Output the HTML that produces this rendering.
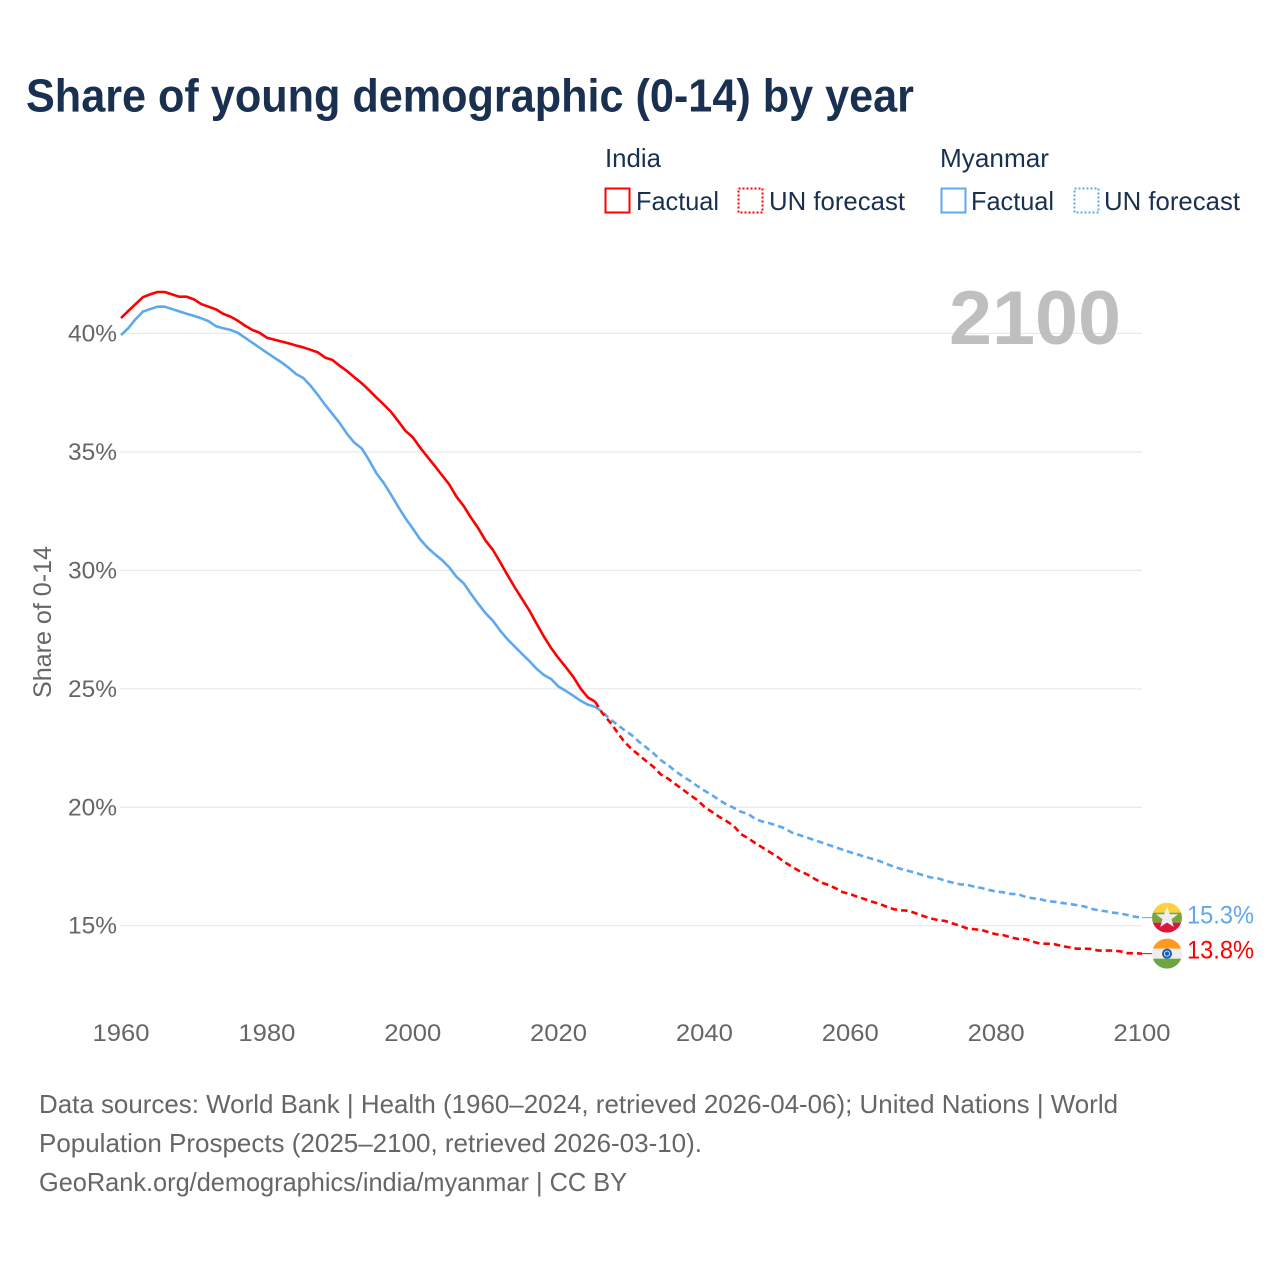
<!DOCTYPE html>
<html lang="en">
<head>
<meta charset="utf-8">
<title>Share of young demographic (0-14) by year</title>
<style>
html,body{margin:0;padding:0;background:#fff;}
svg{display:block;font-family:"Liberation Sans",sans-serif;}
</style>
</head>
<body>
<svg id="chart" xmlns="http://www.w3.org/2000/svg" width="1280" height="1280" viewBox="0 0 1280 1280">
  <defs>
    <clipPath id="flag-clip"><circle cx="0" cy="0" r="15"/></clipPath>
  </defs>
  <rect x="0" y="0" width="1280" height="1280" fill="#fff"/>
  <text x="26" y="111.5" font-size="46" font-weight="700" fill="#1a3050" textLength="888" lengthAdjust="spacingAndGlyphs">Share of young demographic (0-14) by year</text>

  <g font-size="26" fill="#1a3050">
    <text x="605" y="167" textLength="56" lengthAdjust="spacingAndGlyphs">India</text>
    <rect x="605.5" y="188.5" width="24" height="24" fill="none" stroke="#ff0000" stroke-width="2"/>
    <text x="636" y="210" textLength="83" lengthAdjust="spacingAndGlyphs">Factual</text>
    <rect x="738.5" y="188.5" width="24" height="24" fill="none" stroke="#ff0000" stroke-width="2" stroke-dasharray="2 2"/>
    <text x="769" y="210" textLength="136" lengthAdjust="spacingAndGlyphs">UN forecast</text>
    <text x="940" y="167" textLength="109" lengthAdjust="spacingAndGlyphs">Myanmar</text>
    <rect x="941.5" y="188.5" width="24" height="24" fill="none" stroke="#5ea8ee" stroke-width="2"/>
    <text x="971" y="210" textLength="83" lengthAdjust="spacingAndGlyphs">Factual</text>
    <rect x="1074.5" y="188.5" width="24" height="24" fill="none" stroke="#5ea8ee" stroke-width="2" stroke-dasharray="2 2"/>
    <text x="1104" y="210" textLength="136" lengthAdjust="spacingAndGlyphs">UN forecast</text>
  </g>

  <text transform="translate(51,622) rotate(-90)" text-anchor="middle" font-size="25" fill="#666" textLength="152" lengthAdjust="spacingAndGlyphs">Share of 0-14</text>

  <g id="grid"></g>
  <g id="ytick-labels"></g>
  <g id="xtick-labels"></g>

  <text x="1121" y="344" text-anchor="end" font-size="76" font-weight="700" fill="#bfbfbf" textLength="172" lengthAdjust="spacingAndGlyphs">2100</text>

  <g id="series"></g>

  <g id="flag-myanmar">
    <g clip-path="url(#flag-clip)">
      <rect x="-15" y="-15" width="30" height="10" fill="#fdd23f"/>
      <rect x="-15" y="-5" width="30" height="10" fill="#79a63c"/>
      <rect x="-15" y="5" width="30" height="10" fill="#e0133c"/>
      <polygon points="0,-11 2.9,-3.4 11,-3.4 4.5,1.6 6.8,9.3 0,4.8 -6.8,9.3 -4.5,1.6 -11,-3.4 -2.9,-3.4" fill="#eeeeee"/>
    </g>
  </g>
  <g id="flag-india">
    <g clip-path="url(#flag-clip)">
      <rect x="-15" y="-15" width="30" height="10" fill="#ff9b1c"/>
      <rect x="-15" y="-5" width="30" height="10" fill="#eeeeee"/>
      <rect x="-15" y="5" width="30" height="10" fill="#6da544"/>
      <circle cx="0" cy="0" r="5" fill="#0f5cbc"/>
      <circle cx="0" cy="0" r="2.6" fill="none" stroke="#cfe0f5" stroke-width="1"/>
    </g>
  </g>
  <g id="end-labels" font-size="25"></g>

  <g font-size="26" fill="#666">
    <text x="39" y="1113" textLength="1079" lengthAdjust="spacingAndGlyphs">Data sources: World Bank | Health (1960–2024, retrieved 2026-04-06); United Nations | World</text>
    <text x="39" y="1152" textLength="663" lengthAdjust="spacingAndGlyphs">Population Prospects (2025–2100, retrieved 2026-03-10).</text>
    <text x="39" y="1191" textLength="588" lengthAdjust="spacingAndGlyphs">GeoRank.org/demographics/india/myanmar | CC BY</text>
  </g>
</svg>
<script>
const factualStartYear = 1960;
const forecastStartYear = 2025;
const yTickValues = [40, 35, 30, 25, 20, 15];
const xTickValues = [1960, 1980, 2000, 2020, 2040, 2060, 2080, 2100];
const indiaFactual = [40.65,40.95,41.24,41.53,41.65,41.75,41.75,41.65,41.55,41.55,41.44,41.24,41.13,41.02,40.83,40.71,40.54,40.33,40.15,40.03,39.82,39.74,39.66,39.58,39.49,39.41,39.31,39.20,38.98,38.88,38.63,38.41,38.15,37.90,37.61,37.30,37.01,36.70,36.30,35.89,35.62,35.19,34.80,34.42,34.02,33.63,33.11,32.71,32.22,31.77,31.25,30.86,30.34,29.80,29.28,28.79,28.30,27.74,27.20,26.71,26.29,25.91,25.51,25.02,24.64,24.46];
const indiaForecast = [24.46,23.97,23.61,23.19,22.77,22.46,22.21,21.95,21.71,21.39,21.21,20.98,20.76,20.52,20.31,20.02,19.81,19.60,19.42,19.22,18.87,18.69,18.48,18.29,18.10,17.91,17.68,17.49,17.31,17.18,17.00,16.82,16.72,16.58,16.41,16.33,16.22,16.12,16.01,15.92,15.80,15.69,15.65,15.63,15.52,15.41,15.31,15.24,15.20,15.10,15.00,14.89,14.85,14.82,14.72,14.64,14.60,14.51,14.44,14.43,14.33,14.24,14.24,14.22,14.14,14.09,14.03,14.03,14.02,13.95,13.95,13.95,13.92,13.84,13.84,13.82];
const myanmarFactual = [39.93,40.22,40.60,40.92,41.03,41.13,41.13,41.03,40.93,40.83,40.74,40.64,40.52,40.31,40.22,40.15,40.03,39.82,39.61,39.40,39.19,38.98,38.78,38.55,38.29,38.12,37.79,37.40,36.98,36.60,36.21,35.76,35.39,35.15,34.66,34.11,33.70,33.21,32.69,32.20,31.77,31.32,30.97,30.69,30.44,30.13,29.73,29.45,29.00,28.58,28.19,27.87,27.45,27.09,26.78,26.47,26.17,25.84,25.58,25.41,25.09,24.91,24.71,24.50,24.33,24.24];
const myanmarForecast = [24.24,24.03,23.73,23.50,23.26,23.05,22.77,22.53,22.28,21.99,21.78,21.53,21.31,21.12,20.90,20.70,20.52,20.31,20.12,19.98,19.81,19.72,19.50,19.39,19.32,19.22,19.11,18.93,18.83,18.73,18.62,18.52,18.41,18.31,18.20,18.10,18.01,17.91,17.82,17.73,17.60,17.49,17.39,17.31,17.23,17.13,17.04,17.00,16.90,16.82,16.75,16.72,16.65,16.59,16.51,16.44,16.41,16.34,16.33,16.22,16.16,16.12,16.04,16.01,15.96,15.92,15.87,15.82,15.72,15.65,15.61,15.55,15.52,15.45,15.38,15.34];
const endLabelMyanmar = 15.3;
const endLabelIndia = 13.8;

const NS = 'http://www.w3.org/2000/svg';
const xScale = function (year) { return 121 + (year - 1960) * (1142 - 121) / 140; };
const yScale = function (v) { return 925.7 - (v - 15) * 23.69; };

function linePath(values, startYear) {
  return values.map(function (v, i) {
    return (i ? 'L' : 'M') + xScale(startYear + i).toFixed(2) + ' ' + yScale(v).toFixed(2);
  }).join(' ');
}

const gridGroup = document.getElementById('grid');
const yLabelGroup = document.getElementById('ytick-labels');
yTickValues.forEach(function (v) {
  const line = document.createElementNS(NS, 'line');
  
  
  line.setAttribute('x1', 120);
  line.setAttribute('x2', 1142);
  line.setAttribute('y1', yScale(v));
  line.setAttribute('y2', yScale(v));
  line.setAttribute('stroke', '#e8e8e8');
  line.setAttribute('stroke-width', 1.2);
  gridGroup.appendChild(line);
  const label = document.createElementNS(NS, 'text');
  
  
  label.setAttribute('x', 68);
  label.setAttribute('y', yScale(v) + 8);
  label.setAttribute('font-size', 24);
  label.setAttribute('fill', '#666');
  label.setAttribute('textLength', 49);
  label.setAttribute('lengthAdjust', 'spacingAndGlyphs');
  label.textContent = v + '%';
  yLabelGroup.appendChild(label);
});

const xLabelGroup = document.getElementById('xtick-labels');
xTickValues.forEach(function (y) {
  const label = document.createElementNS(NS, 'text');
  
  
  label.setAttribute('x', xScale(y) - 28.5);
  label.setAttribute('y', 1041);
  label.setAttribute('font-size', 24);
  label.setAttribute('fill', '#666');
  label.setAttribute('textLength', 57);
  label.setAttribute('lengthAdjust', 'spacingAndGlyphs');
  label.textContent = y;
  xLabelGroup.appendChild(label);
});

const seriesGroup = document.getElementById('series');
function addLine(name, values, startYear, color, dashed) {
  const p = document.createElementNS(NS, 'path');
  
  
  p.setAttribute('d', linePath(values, startYear));
  p.setAttribute('fill', 'none');
  p.setAttribute('stroke', color);
  p.setAttribute('stroke-width', 2.6);
  p.setAttribute('stroke-linejoin', 'round');
  if (dashed) { p.setAttribute('stroke-dasharray', '6.5 4'); }
  seriesGroup.appendChild(p);
}
addLine('line-myanmar-factual', myanmarFactual, factualStartYear, '#5ea8ee', false);
addLine('line-myanmar-forecast', myanmarForecast, forecastStartYear, '#5ea8ee', true);
addLine('line-india-factual', indiaFactual, factualStartYear, '#ff0000', false);
addLine('line-india-forecast', indiaForecast, forecastStartYear, '#ff0000', true);

function addConnector(name, value, color) {
  const c = document.createElementNS(NS, 'line');
  
  
  c.setAttribute('x1', xScale(2100));
  c.setAttribute('x2', 1153);
  c.setAttribute('y1', yScale(value));
  c.setAttribute('y2', yScale(value));
  c.setAttribute('stroke', color);
  c.setAttribute('stroke-width', 1);
  seriesGroup.appendChild(c);
}
addConnector('connector-myanmar', myanmarForecast[myanmarForecast.length - 1], '#5ea8ee');
addConnector('connector-india', indiaForecast[indiaForecast.length - 1], '#ff0000');

document.getElementById('flag-myanmar').setAttribute('transform', 'translate(1167,' + yScale(myanmarForecast[myanmarForecast.length - 1]) + ')');
document.getElementById('flag-india').setAttribute('transform', 'translate(1167,' + yScale(indiaForecast[indiaForecast.length - 1]) + ')');

const endGroup = document.getElementById('end-labels');
function addEndLabel(name, value, anchorValue, color, offset) {
  const t = document.createElementNS(NS, 'text');
  
  
  t.setAttribute('x', 1187);
  t.setAttribute('y', yScale(anchorValue) + offset);
  t.setAttribute('fill', color);
  t.setAttribute('textLength', 67);
  t.setAttribute('lengthAdjust', 'spacingAndGlyphs');
  t.textContent = value.toFixed(1) + '%';
  endGroup.appendChild(t);
}
addEndLabel('end-label-myanmar', endLabelMyanmar, myanmarForecast[myanmarForecast.length - 1], '#5ea8ee', 6);
addEndLabel('end-label-india', endLabelIndia, indiaForecast[indiaForecast.length - 1], '#ff0000', 5);
</script>
</body>
</html>
